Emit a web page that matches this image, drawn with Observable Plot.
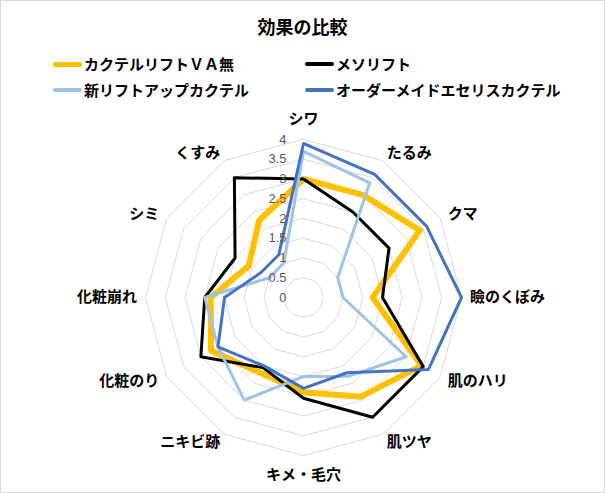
<!DOCTYPE html>
<html><head><meta charset="utf-8">
<script src="https://cdn.jsdelivr.net/npm/d3@7"></script>
<script src="https://cdn.jsdelivr.net/npm/@observablehq/plot@0.6"></script>
<style>
body{margin:0;background:#fff;}
#chart{position:relative;width:605px;height:493px;overflow:hidden;font-family:"Noto Sans CJK JP",sans-serif;background:#fff;}
#chart svg{position:absolute;left:0;top:0;}
#frame{position:absolute;left:0;top:0;width:605px;height:493px;box-sizing:border-box;border:1px solid #d9d9d9;pointer-events:none;}
#title{position:absolute;left:0;width:605px;top:13px;text-align:center;font-size:18px;font-weight:bold;line-height:26px;color:#000;}
.leg{position:absolute;font-size:15px;font-weight:bold;display:flex;align-items:center;white-space:nowrap;height:20px;line-height:20px;color:#000;}
.sw{display:inline-block;width:29px;margin-right:2px;border-radius:2px;}
</style></head>
<body>
<div id="chart"><div id="title">効果の比較</div><div id="frame"></div></div>
<script>
// ---- data ----
const categories = ["シワ","たるみ","クマ","瞼のくぼみ","肌のハリ","肌ツヤ","キメ・毛穴","ニキビ跡","化粧のり","化粧崩れ","シミ","くすみ"];
const seriesNames = ["カクテルリフトＶＡ無","メソリフト","新リフトアップカクテル","オーダーメイドエセリスカクテル"];
const cocktailVA = [3.0, 3.0, 3.4, 1.75, 3.45, 2.9, 2.4, 2.2, 2.7, 2.35, 1.6, 2.25];
const mesoLift   = [3.0, 2.5, 2.5, 2.0, 3.5, 3.5, 2.55, 2.05, 3.0, 2.5, 2.0, 3.5];
const newLiftUp  = [3.7, 3.35, 1.0, 1.0, 3.0, 2.3, 2.0, 3.0, 2.5, 2.5, 1.0, 1.0];
const orderMade  = [3.9, 3.6, 3.6, 4.0, 3.65, 2.2, 2.3, 2.0, 2.5, 2.0, 1.25, 1.25];
const tickValues = [0, 0.5, 1, 1.5, 2, 2.5, 3, 3.5, 4];
const tickLabels = ["0","0.5","1","1.5","2","2.5","3","3.5","4"];

// ---- styles ----
const seriesColors = ["#FFC000","#000000","#9DC3E6","#4472C4"];
const seriesWidths = [6, 3, 3, 3];
const legendWidths = [5, 3.5, 3.5, 3.5];

const allValues = [cocktailVA, mesoLift, newLiftUp, orderMade];
const n = categories.length;
const ang = i => i * 2 * Math.PI / n;
const PX = 39.5; // pixels per unit
const CX = 303, CY = 297, W = 605, H = 493;

const seriesRows = allValues.map((vals, s) => vals.map((v, i) => ({
  series: seriesNames[s], cat: categories[i], value: v,
  x: v * Math.sin(ang(i)), y: v * Math.cos(ang(i))
})));

const ringRows = tickValues.filter(t => t > 0).flatMap(t => categories.map((c, i) => ({
  t, x: t * Math.sin(ang(i)), y: t * Math.cos(ang(i))
})));

const tickRows = tickValues.map((t, k) => ({x: 0, y: t, label: tickLabels[k]}));

const maxV = tickValues[tickValues.length - 1];
const labR = maxV + 8.5 / PX;
const labelRows = categories.map((c, i) => {
  const s = Math.sin(ang(i)), co = Math.cos(ang(i));
  return {cat: c, x: labR * s, y: labR * co, s, co};
});

const fontJP = "'Noto Sans CJK JP', sans-serif";
const labelOpts = {x: "x", y: "y", text: "cat", fontSize: 15, fontWeight: "bold", fill: "#000", fontFamily: fontJP};

const marks = [
  Plot.line(ringRows, {x: "x", y: "y", z: "t", curve: "linear-closed", stroke: "#d9d9d9", strokeWidth: 1}),
  ...seriesRows.map((rows, s) => Plot.line(rows, {
    x: "x", y: "y", curve: "linear-closed", stroke: seriesColors[s],
    strokeWidth: seriesWidths[s], strokeLinejoin: "round"
  })),
  Plot.text(tickRows, {x: "x", y: "y", text: "label", textAnchor: "end", dx: -17, fill: "#595959",
    fontSize: 13, fontFamily: "'Liberation Sans', sans-serif", lineAnchor: "middle"}),
  Plot.text(labelRows.filter(d => d.s > 0.1), {...labelOpts, textAnchor: "start", lineAnchor: "middle"}),
  Plot.text(labelRows.filter(d => d.s < -0.1), {...labelOpts, textAnchor: "end", lineAnchor: "middle"}),
  Plot.text(labelRows.filter(d => Math.abs(d.s) <= 0.1 && d.co > 0), {...labelOpts, textAnchor: "middle", lineAnchor: "bottom", dy: -7}),
  Plot.text(labelRows.filter(d => Math.abs(d.s) <= 0.1 && d.co < 0), {...labelOpts, textAnchor: "middle", lineAnchor: "top", dy: 5})
];

const plot = Plot.plot({
  width: W, height: H, margin: 0,
  x: {domain: [-CX / PX, (W - CX) / PX], axis: null},
  y: {domain: [-(H - CY) / PX, CY / PX], axis: null},
  style: {fontFamily: fontJP, background: "transparent", overflow: "visible"},
  marks
});
const chart = document.getElementById("chart");
chart.insertBefore(plot, chart.firstChild);

// legend
const legPos = [[53, 54], [305, 54], [53, 80], [305, 80]];
seriesNames.forEach((name, s) => {
  const d = document.createElement("div");
  d.className = "leg";
  d.style.left = legPos[s][0] + "px";
  d.style.top = legPos[s][1] + "px";
  const sw = document.createElement("span");
  sw.className = "sw";
  sw.style.height = legendWidths[s] + "px";
  sw.style.background = seriesColors[s];
  d.appendChild(sw);
  d.appendChild(document.createTextNode(name));
  chart.appendChild(d);
});
</script>
</body></html>
